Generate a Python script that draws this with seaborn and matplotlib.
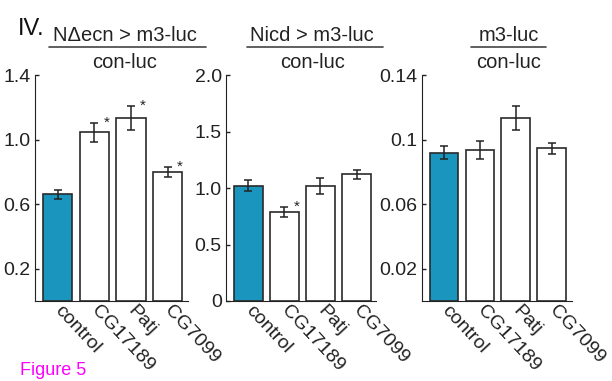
import numpy as np
import matplotlib.pyplot as plt
import seaborn as sns

sns.set_style('ticks')
plt.rcParams['font.family'] = ['Liberation Sans', 'DejaVu Sans']

# data (mean +/- error), '*' = significant
genotypes = ['control', 'CG17189', 'Patj', 'CG7099']

necn_mean = [0.66, 1.045, 1.135, 0.80]
necn_err = [0.03, 0.06, 0.075, 0.03]
necn_sig = [False, True, True, True]

nicd_mean = [1.02, 0.785, 1.02, 1.12]
nicd_err = [0.05, 0.045, 0.07, 0.04]
nicd_sig = [False, True, False, False]

m3_mean = [0.092, 0.0935, 0.1134, 0.0946]
m3_err = [0.0043, 0.0057, 0.0077, 0.0036]
m3_sig = [False, False, False, False]

numerators = ['N\u0394ecn > m3-luc', 'Nicd > m3-luc', 'm3-luc']
denominator = 'con-luc'

yticks_list = [[0.2, 0.6, 1.0, 1.4], [0, 0.5, 1.0, 1.5, 2.0], [0.02, 0.06, 0.1, 0.14]]
ytick_labels = [['0.2', '0.6', '1.0', '1.4'], ['0', '0.5', '1.0', '1.5', '2.0'],
                ['0.02', '0.06', '0.1', '0.14']]
ymax_list = [1.4, 2.0, 0.14]

teal = '#1a96be'
ink = '#222222'
bar_colors = [teal, 'white', 'white', 'white']

fig = plt.figure(figsize=(6.12, 3.81), dpi=100)

panels = [
    (necn_mean, necn_err, necn_sig),
    (nicd_mean, nicd_err, nicd_sig),
    (m3_mean, m3_err, m3_sig),
]
lefts = [0.057, 0.369, 0.689]
widths = [0.25, 0.246, 0.245]
# title geometry in figure fraction: (center x, line x0, line x1)
title_pos = [(0.204, 0.080, 0.337), (0.510, 0.403, 0.625), (0.831, 0.770, 0.892)]

for i, (means, errs, sig) in enumerate(panels):
    ax = fig.add_axes([lefts[i], 0.21, widths[i], 0.593])
    sns.barplot(x=genotypes, y=means, hue=genotypes, palette=bar_colors, legend=False,
                saturation=1, edgecolor='#2a2a2a', linewidth=1.2, width=0.8, ax=ax)
    x = np.arange(len(genotypes))
    ax.errorbar(x, means, yerr=errs, fmt='none', ecolor=ink, elinewidth=1.1,
                capsize=3, capthick=1.1)
    for xi, m, e, s in zip(x, means, errs, sig):
        if s:
            ax.text(xi + 0.33, m + e, '*', ha='center', va='center', fontsize=11, color=ink)

    ax.set_xlim(-0.62, 3.55)
    ax.set_ylim(0, ymax_list[i])
    ax.set_yticks(yticks_list[i])
    ax.set_yticklabels(ytick_labels[i])
    ax.tick_params(axis='y', direction='in', length=3, width=1, pad=3,
                   labelsize=14, colors=ink)
    ax.tick_params(axis='x', length=0, pad=5, labelsize=14, colors=ink)
    for lab in ax.get_xticklabels():
        lab.set_rotation(-47)
        lab.set_ha('left')
        lab.set_va('center')
        lab.set_rotation_mode('anchor')
    sns.despine(ax=ax)
    ax.spines['left'].set_color(ink)
    ax.spines['bottom'].set_color(ink)
    ax.set_xlabel('')
    ax.set_ylabel('')

    cx, lx0, lx1 = title_pos[i]
    fig.text(cx, 0.893, numerators[i], ha='center', va='baseline', fontsize=14.5, color=ink)
    fig.add_artist(plt.Line2D([lx0, lx1], [0.877, 0.877], color='#444444', lw=1.2))
    fig.text(cx, 0.822, denominator, ha='center', va='baseline', fontsize=14.5, color=ink)

fig.text(0.029, 0.908, 'IV.', ha='left', va='baseline', fontsize=17, color='#111111')
fig.text(0.033, 0.004, 'Figure 5', ha='left', va='bottom', fontsize=13, color='#ff00ff')

fig.savefig('out.png', dpi=100)
